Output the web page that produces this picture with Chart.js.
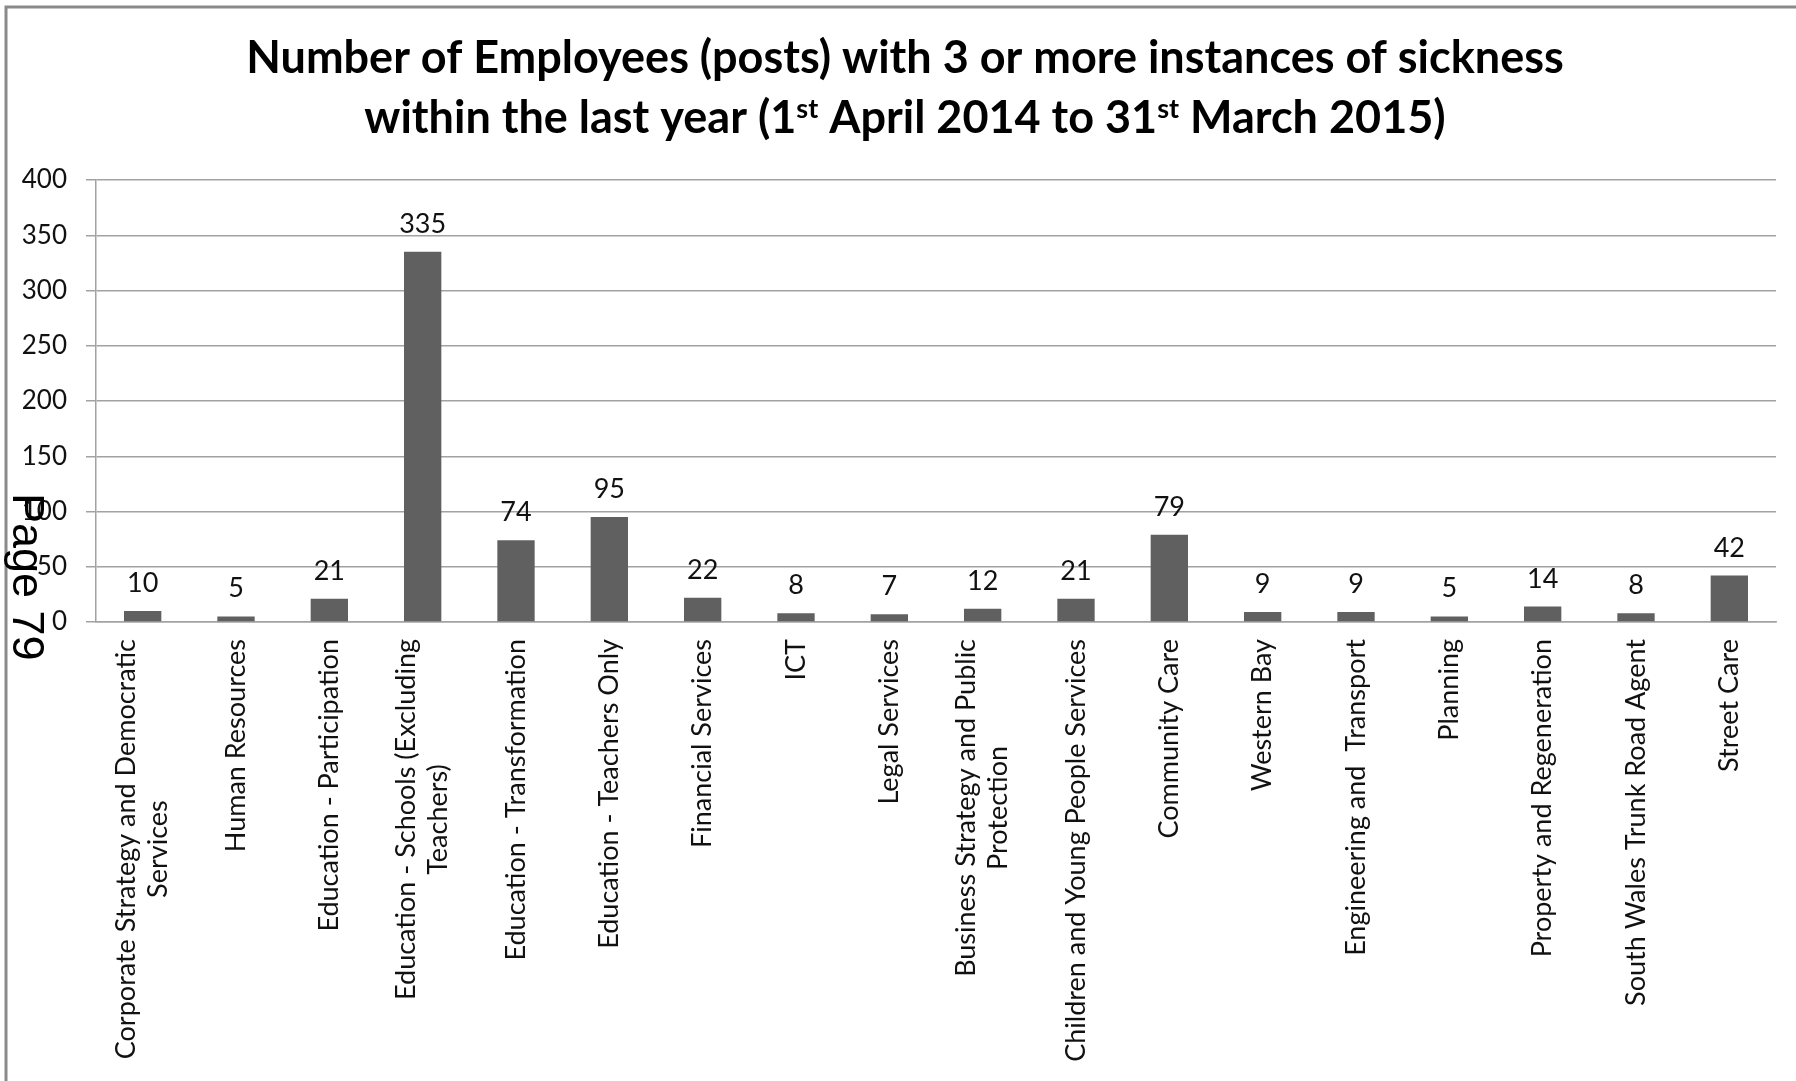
<!DOCTYPE html>
<html>
<head>
<meta charset="utf-8">
<script src="https://cdn.jsdelivr.net/npm/chart.js@4"></script>
<style>
  html, body { margin: 0; padding: 0; background: #fff; }
  #wrap { width: 1796px; height: 1081px; }
</style>
</head>
<body>
<div id="wrap"><canvas id="myChart" width="1796" height="1081"></canvas></div>
<script>
// departments along the x axis (arrays = wrapped onto two lines)
const categories = [
    ['Corporate Strategy and Democratic', 'Services'],
    'Human Resources',
    'Education - Participation',
    ['Education - Schools (Excluding', 'Teachers)'],
    'Education - Transformation',
    'Education - Teachers Only',
    'Financial Services',
    'ICT',
    'Legal Services',
    ['Business Strategy and Public', 'Protection'],
    'Children and Young People Services',
    'Community Care',
    'Western Bay',
    'Engineering and  Transport',
    'Planning',
    'Property and Regeneration',
    'South Wales Trunk Road Agent',
    'Street Care'
];

// employees (posts) with 3+ sickness instances
const employees = [10, 5, 21, 335, 74, 95, 22, 8, 7, 12, 21, 79, 9, 9, 5, 14, 8, 42];

// y axis range and step
const yMin = 0;
const yMax = 400;
const yStep = 50;

const titleLine1 = [['Number of Employees (posts) with 3 or more instances of sickness', false]];
const titleLine2 = [
    ['within the last year (1', false], ['st', true], [' April 2014 to 31', false],
    ['st', true], [' March 2015)', false]
];
const pageMark = 'Page 79';

const labelFont = '27px Lato';
const textColor = '#111';
const gridColor = '#a2a2a2';

//white background and the box round the chart
const framePlugin = {
    id: 'frame',
    beforeDraw(chart) {
        const ctx = chart.ctx;
        ctx.save();
        ctx.fillStyle = '#fff';
        ctx.fillRect(0, 0, chart.width, chart.height);
        ctx.strokeStyle = '#8a8a8a';
        ctx.lineWidth = 3;
        ctx.strokeRect(6, 7, chart.width + 40, chart.height + 40);
        ctx.restore();
    }
};

//two line title with superscripts
const titlePlugin = {
    id: 'twoLineTitle',
    afterDraw(chart) {
        const ctx = chart.ctx;
        const cx = 905;
        const big = 'bold 45px Lato';
        const small = 'bold 27px Lato';
        ctx.save();
        ctx.fillStyle = '#000';
        ctx.textBaseline = 'alphabetic';
        ctx.textAlign = 'left';
        [[titleLine1, 73], [titleLine2, 133]].forEach(([parts, base]) => {
            let w = 0;
            parts.forEach(p => { ctx.font = p[1] ? small : big; w += ctx.measureText(p[0]).width; });
            let x = cx - w / 2;
            parts.forEach(p => {
                ctx.font = p[1] ? small : big;
                ctx.fillText(p[0], x, p[1] ? base - 15 : base);
                x += ctx.measureText(p[0]).width;
            });
        });
        ctx.restore();
    }
};

//category labels, rotated, wrapped lines centred on each other
const xLabelPlugin = {
    id: 'xLabels',
    afterDraw(chart) {
        const ctx = chart.ctx;
        const xs = chart.scales.x;
        const top = chart.chartArea.bottom + 17;
        const lineH = 32;
        ctx.save();
        ctx.font = labelFont;
        ctx.fillStyle = textColor;
        ctx.textAlign = 'center';
        ctx.textBaseline = 'middle';
        categories.forEach((cat, i) => {
            const lines = Array.isArray(cat) ? cat : [cat];
            const widest = Math.max(...lines.map(l => ctx.measureText(l).width));
            const px = xs.getPixelForValue(i);
            lines.forEach((l, j) => {
                ctx.save();
                ctx.translate(px + (j - (lines.length - 1) / 2) * lineH, top + widest / 2);
                ctx.rotate(-Math.PI / 2);
                ctx.fillText(l, 0, 0);
                ctx.restore();
            });
        });
        ctx.restore();
    }
};

//value above each bar
const valuePlugin = {
    id: 'barValues',
    afterDatasetsDraw(chart) {
        const ctx = chart.ctx;
        const meta = chart.getDatasetMeta(0);
        ctx.save();
        ctx.font = labelFont;
        ctx.fillStyle = textColor;
        ctx.textAlign = 'center';
        ctx.textBaseline = 'alphabetic';
        meta.data.forEach((bar, i) => {
            ctx.fillText(String(employees[i]), bar.x, bar.y - 19);
        });
        ctx.restore();
    }
};

//page number running down the left edge
const pagePlugin = {
    id: 'pageMark',
    afterDraw(chart) {
        const ctx = chart.ctx;
        ctx.save();
        ctx.font = '45px "Liberation Sans"';
        ctx.fillStyle = '#000';
        ctx.textBaseline = 'alphabetic';
        ctx.translate(13, 493);
        ctx.rotate(Math.PI / 2);
        ctx.fillText(pageMark, 0, 0);
        ctx.restore();
    }
};

const config = {
    type: 'bar',
    data: {
        labels: categories,
        datasets: [{
            data: employees,
            backgroundColor: '#606060',
            barPercentage: 0.4,
            categoryPercentage: 1.0
        }]
    },
    options: {
        responsive: false,
        animation: false,
        layout: { padding: { top: 180, right: 20, left: 0, bottom: 0 } },
        plugins: {
            legend: { display: false },
            title: { display: false },
            tooltip: { enabled: false }
        },
        scales: {
            x: {
                grid: { display: false },
                border: { display: true, color: gridColor, width: 1.5 },
                ticks: { display: false },
                afterFit: scale => { scale.height = 1081 - 622; }
            },
            y: {
                min: yMin,
                max: yMax,
                grid: { color: gridColor, lineWidth: 1.5, tickLength: 10 },
                border: { color: gridColor, width: 1.5 },
                ticks: {
                    stepSize: yStep,
                    padding: 19,
                    color: textColor,
                    font: { family: 'Lato', size: 26 }
                },
                afterFit: scale => { scale.width = 96; }
            }
        }
    },
    plugins: [framePlugin, valuePlugin, titlePlugin, xLabelPlugin, pagePlugin]
};

const chart = new Chart(document.getElementById('myChart'), config);
</script>
</body>
</html>
